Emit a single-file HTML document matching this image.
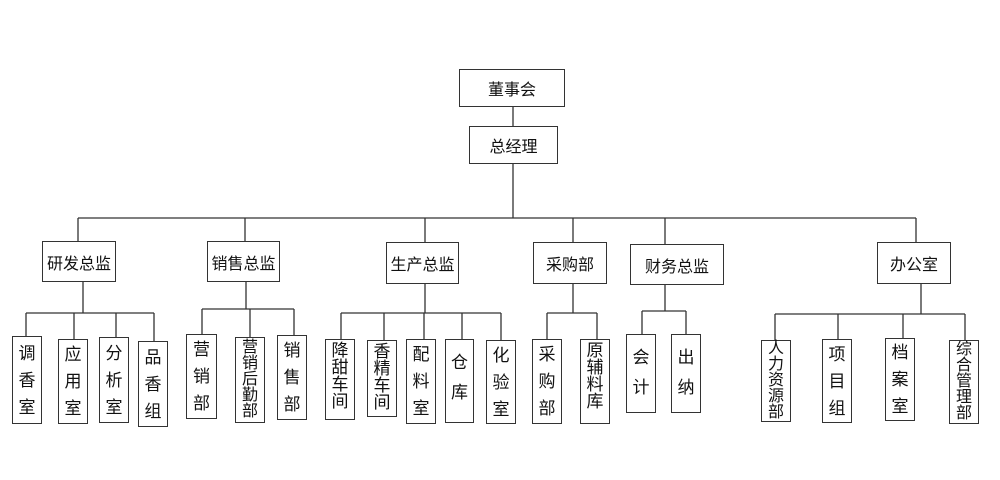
<!DOCTYPE html>
<html><head><meta charset="utf-8"><style>
body{margin:0;width:1000px;height:480px;background:#fff;position:relative;overflow:hidden;font-family:"Liberation Sans","Noto Sans CJK SC",sans-serif;color:#111}
.b{position:absolute;box-sizing:border-box;border:1.3px solid #333;background:#fff;display:flex;align-items:center;justify-content:center;font-size:16px;text-align:center;white-space:nowrap}
.v3{font-size:17px;line-height:27px}
.v4{font-size:17px;line-height:17px}
.v5{font-size:16px;line-height:16px}
svg{position:absolute;left:0;top:0}
</style></head><body>
<svg width="1000" height="480"><g stroke="#333" stroke-width="1.3" fill="none">
<line x1="513" y1="107" x2="513" y2="126"/>
<line x1="513" y1="164" x2="513" y2="218"/>
<line x1="78" y1="218" x2="916" y2="218"/>
<line x1="78" y1="218" x2="78" y2="241"/>
<line x1="245" y1="218" x2="245" y2="241"/>
<line x1="425" y1="218" x2="425" y2="242"/>
<line x1="573" y1="218" x2="573" y2="242"/>
<line x1="665" y1="218" x2="665" y2="244"/>
<line x1="916" y1="218" x2="916" y2="242"/>
<line x1="83" y1="282" x2="83" y2="313"/><line x1="26" y1="313" x2="154" y2="313"/>
<line x1="26" y1="313" x2="26" y2="336"/><line x1="74" y1="313" x2="74" y2="339"/><line x1="116" y1="313" x2="116" y2="337"/><line x1="154" y1="313" x2="154" y2="341"/>
<line x1="246" y1="282" x2="246" y2="309"/><line x1="202" y1="309" x2="294" y2="309"/>
<line x1="202" y1="309" x2="202" y2="334"/><line x1="250" y1="309" x2="250" y2="337"/><line x1="294" y1="309" x2="294" y2="335"/>
<line x1="425" y1="284" x2="425" y2="313"/><line x1="341" y1="313" x2="501" y2="313"/>
<line x1="341" y1="313" x2="341" y2="339"/><line x1="384" y1="313" x2="384" y2="340"/><line x1="424" y1="313" x2="424" y2="339"/><line x1="462" y1="313" x2="462" y2="339"/><line x1="501" y1="313" x2="501" y2="340"/>
<line x1="573" y1="284" x2="573" y2="313"/><line x1="547" y1="313" x2="597" y2="313"/>
<line x1="547" y1="313" x2="547" y2="339"/><line x1="597" y1="313" x2="597" y2="339"/>
<line x1="665" y1="285" x2="665" y2="311"/><line x1="642" y1="311" x2="686" y2="311"/>
<line x1="642" y1="311" x2="642" y2="334"/><line x1="686" y1="311" x2="686" y2="334"/>
<line x1="921" y1="284" x2="921" y2="314"/><line x1="775" y1="314" x2="965" y2="314"/>
<line x1="775" y1="314" x2="775" y2="340"/><line x1="838" y1="314" x2="838" y2="339"/><line x1="903" y1="314" x2="903" y2="338"/><line x1="965" y1="314" x2="965" y2="340"/>
</g></svg>
<div class="b" style="left:459px;top:69px;width:106px;height:38px">董事会</div>
<div class="b" style="left:469px;top:126px;width:89px;height:38px">总经理</div>
<div class="b" style="left:42px;top:241px;width:74px;height:41px">研发总监</div>
<div class="b" style="left:207px;top:241px;width:73px;height:41px">销售总监</div>
<div class="b" style="left:386px;top:242px;width:73px;height:42px">生产总监</div>
<div class="b" style="left:533px;top:242px;width:74px;height:42px">采购部</div>
<div class="b" style="left:630px;top:244px;width:94px;height:41px">财务总监</div>
<div class="b" style="left:877px;top:242px;width:74px;height:42px">办公室</div>

<div class="b" style="left:12px;top:336px;width:30px;height:88px"><span class="v3">调<br>香<br>室</span></div>
<div class="b" style="left:58px;top:339px;width:30px;height:85px"><span class="v3">应<br>用<br>室</span></div>
<div class="b" style="left:99px;top:337px;width:30px;height:86px"><span class="v3">分<br>析<br>室</span></div>
<div class="b" style="left:138px;top:341px;width:30px;height:86px"><span class="v3">品<br>香<br>组</span></div>
<div class="b" style="left:186px;top:334px;width:31px;height:85px"><span class="v3">营<br>销<br>部</span></div>
<div class="b" style="left:235px;top:337px;width:30px;height:86px"><span class="v5">营<br>销<br>后<br>勤<br>部</span></div>
<div class="b" style="left:277px;top:335px;width:30px;height:85px"><span class="v3">销<br>售<br>部</span></div>
<div class="b" style="left:325px;top:339px;width:30px;height:81px;align-items:flex-start;padding-top:2px"><span class="v4">降<br>甜<br>车<br>间</span></div>
<div class="b" style="left:367px;top:340px;width:30px;height:77px;align-items:flex-start;padding-top:2px"><span class="v4">香<br>精<br>车<br>间</span></div>
<div class="b" style="left:406px;top:339px;width:30px;height:85px"><span class="v3">配<br>料<br>室</span></div>
<div class="b" style="left:445px;top:339px;width:29px;height:84px;align-items:flex-start;padding-top:8px"><span class="v3" style="line-height:30px">仓<br>库</span></div>
<div class="b" style="left:486px;top:340px;width:30px;height:84px"><span class="v3">化<br>验<br>室</span></div>
<div class="b" style="left:532px;top:339px;width:30px;height:85px"><span class="v3">采<br>购<br>部</span></div>
<div class="b" style="left:580px;top:339px;width:30px;height:85px;align-items:flex-start;padding-top:2px"><span class="v4">原<br>辅<br>料<br>库</span></div>
<div class="b" style="left:626px;top:334px;width:30px;height:79px;align-items:flex-start;padding-top:8px"><span class="v3" style="line-height:30px">会<br>计</span></div>
<div class="b" style="left:671px;top:334px;width:30px;height:79px;align-items:flex-start;padding-top:8px"><span class="v3" style="line-height:30px">出<br>纳</span></div>
<div class="b" style="left:761px;top:340px;width:30px;height:82px"><span class="v5">人<br>力<br>资<br>源<br>部</span></div>
<div class="b" style="left:822px;top:339px;width:30px;height:84px"><span class="v3">项<br>目<br>组</span></div>
<div class="b" style="left:885px;top:338px;width:30px;height:83px"><span class="v3">档<br>案<br>室</span></div>
<div class="b" style="left:949px;top:340px;width:30px;height:84px"><span class="v5">综<br>合<br>管<br>理<br>部</span></div>
</body></html>
